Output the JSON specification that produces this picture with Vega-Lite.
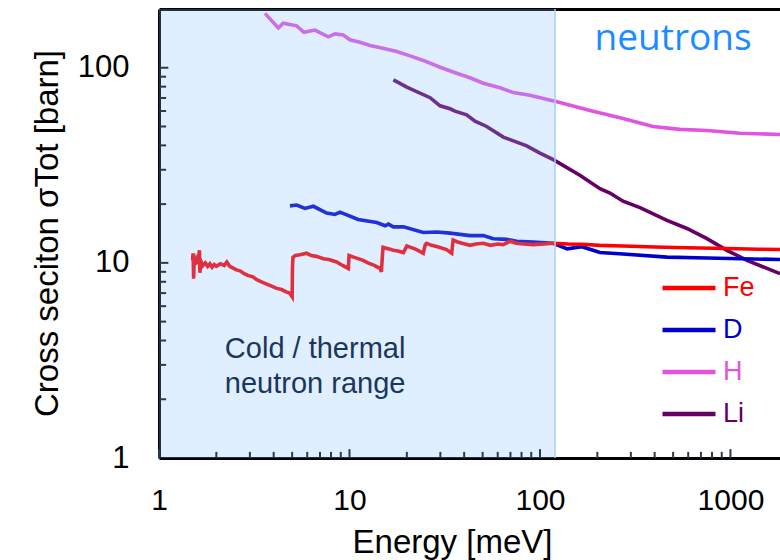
{
  "$schema": "https://vega.github.io/schema/vega-lite/v6.json",
  "autosize": "none",
  "padding": {"left": 159, "top": 9, "right": 0, "bottom": 102},
  "width": 621,
  "height": 449,
  "background": "white",
  "config": {"view": {"stroke": null}, "font": "Liberation Sans"},
  "datasets": {
    "one": [{"note": "annotation"}],
    "xticks": [
      {"v": 1, "major": true}, {"v": 2, "major": false}, {"v": 3, "major": false}, {"v": 4, "major": false}, {"v": 5, "major": false},
      {"v": 6, "major": false}, {"v": 7, "major": false}, {"v": 8, "major": false}, {"v": 9, "major": false},
      {"v": 10, "major": true}, {"v": 20, "major": false}, {"v": 30, "major": false}, {"v": 40, "major": false}, {"v": 50, "major": false},
      {"v": 60, "major": false}, {"v": 70, "major": false}, {"v": 80, "major": false}, {"v": 90, "major": false},
      {"v": 100, "major": true}, {"v": 200, "major": false}, {"v": 300, "major": false}, {"v": 400, "major": false}, {"v": 500, "major": false},
      {"v": 600, "major": false}, {"v": 700, "major": false}, {"v": 800, "major": false}, {"v": 900, "major": false},
      {"v": 1000, "major": true}
    ],
    "yticks": [
      {"v": 2, "major": false}, {"v": 3, "major": false}, {"v": 4, "major": false}, {"v": 5, "major": false},
      {"v": 6, "major": false}, {"v": 7, "major": false}, {"v": 8, "major": false}, {"v": 9, "major": false},
      {"v": 10, "major": true}, {"v": 20, "major": false}, {"v": 30, "major": false}, {"v": 40, "major": false}, {"v": 50, "major": false},
      {"v": 60, "major": false}, {"v": 70, "major": false}, {"v": 80, "major": false}, {"v": 90, "major": false},
      {"v": 100, "major": true}
    ],
    "curves": [
      {"el": "H", "E": 3.60, "s": 190}, {"el": "H", "E": 4.23, "s": 160}, {"el": "H", "E": 4.49, "s": 169}, {"el": "H", "E": 5.28, "s": 164},
      {"el": "H", "E": 5.77, "s": 152}, {"el": "H", "E": 6.59, "s": 156}, {"el": "H", "E": 7.74, "s": 144}, {"el": "H", "E": 8.39, "s": 149},
      {"el": "H", "E": 9.28, "s": 147}, {"el": "H", "E": 10.06, "s": 139}, {"el": "H", "E": 11.35, "s": 135}, {"el": "H", "E": 12.8, "s": 130},
      {"el": "H", "E": 15.0, "s": 126}, {"el": "H", "E": 17.7, "s": 121}, {"el": "H", "E": 20.8, "s": 115}, {"el": "H", "E": 24.4, "s": 109},
      {"el": "H", "E": 29.9, "s": 100.6}, {"el": "H", "E": 36.5, "s": 93.7}, {"el": "H", "E": 42.9, "s": 88.8}, {"el": "H", "E": 50.4, "s": 83.3},
      {"el": "H", "E": 61.7, "s": 78.9}, {"el": "H", "E": 72.4, "s": 74.6}, {"el": "H", "E": 88.6, "s": 72.3}, {"el": "H", "E": 108, "s": 69.0},
      {"el": "H", "E": 120, "s": 67.4}, {"el": "H", "E": 183, "s": 60.4}, {"el": "H", "E": 273, "s": 55.0}, {"el": "H", "E": 392, "s": 50.0},
      {"el": "H", "E": 543, "s": 48.3}, {"el": "H", "E": 753, "s": 47.7}, {"el": "H", "E": 1122, "s": 46.2}, {"el": "H", "E": 1820, "s": 45.5},

      {"el": "Li", "E": 17.0, "s": 86.7}, {"el": "Li", "E": 20.0, "s": 79.5}, {"el": "Li", "E": 26.5, "s": 70.2}, {"el": "Li", "E": 29.9, "s": 63.8},
      {"el": "Li", "E": 33.7, "s": 61.6}, {"el": "Li", "E": 35.8, "s": 59.9}, {"el": "Li", "E": 41.2, "s": 57.4}, {"el": "Li", "E": 45.6, "s": 53.2},
      {"el": "Li", "E": 52.5, "s": 50.0}, {"el": "Li", "E": 64.2, "s": 44.1}, {"el": "Li", "E": 85.2, "s": 39.8}, {"el": "Li", "E": 100, "s": 36.5},
      {"el": "Li", "E": 117.5, "s": 33.8}, {"el": "Li", "E": 162, "s": 28.1}, {"el": "Li", "E": 206.5, "s": 24.0}, {"el": "Li", "E": 233, "s": 22.8},
      {"el": "Li", "E": 273, "s": 20.7}, {"el": "Li", "E": 335, "s": 19.2}, {"el": "Li", "E": 464, "s": 16.5}, {"el": "Li", "E": 591, "s": 15.0},
      {"el": "Li", "E": 753, "s": 13.3}, {"el": "Li", "E": 958, "s": 11.6}, {"el": "Li", "E": 1221, "s": 10.3}, {"el": "Li", "E": 1820, "s": 8.8},

      {"el": "D", "E": 4.87, "s": 19.6}, {"el": "D", "E": 5.28, "s": 19.8}, {"el": "D", "E": 5.84, "s": 19.0}, {"el": "D", "E": 6.46, "s": 19.5},
      {"el": "D", "E": 7.59, "s": 18.0}, {"el": "D", "E": 8.39, "s": 17.7}, {"el": "D", "E": 8.92, "s": 18.2}, {"el": "D", "E": 11.1, "s": 16.7},
      {"el": "D", "E": 13.9, "s": 16.1}, {"el": "D", "E": 15.4, "s": 15.5}, {"el": "D", "E": 16.0, "s": 15.8}, {"el": "D", "E": 17.0, "s": 15.3},
      {"el": "D", "E": 19.2, "s": 15.3}, {"el": "D", "E": 24.4, "s": 14.3}, {"el": "D", "E": 28.7, "s": 14.4}, {"el": "D", "E": 33.7, "s": 14.2},
      {"el": "D", "E": 42.9, "s": 13.8}, {"el": "D", "E": 50.4, "s": 13.8}, {"el": "D", "E": 56.9, "s": 13.3}, {"el": "D", "E": 66.9, "s": 13.2},
      {"el": "D", "E": 75.5, "s": 12.9}, {"el": "D", "E": 92.2, "s": 12.8}, {"el": "D", "E": 117.5, "s": 12.6}, {"el": "D", "E": 139, "s": 11.8},
      {"el": "D", "E": 166, "s": 12.1}, {"el": "D", "E": 206.5, "s": 11.3}, {"el": "D", "E": 273, "s": 11.1}, {"el": "D", "E": 464, "s": 10.7},
      {"el": "D", "E": 753, "s": 10.6}, {"el": "D", "E": 1820, "s": 10.4},

      {"el": "Fe", "E": 1.50, "s": 10.3}, {"el": "Fe", "E": 1.51, "s": 11.2}, {"el": "Fe", "E": 1.52, "s": 8.3}, {"el": "Fe", "E": 1.53, "s": 10.6},
      {"el": "Fe", "E": 1.55, "s": 9.8}, {"el": "Fe", "E": 1.57, "s": 10.4}, {"el": "Fe", "E": 1.60, "s": 9.9}, {"el": "Fe", "E": 1.63, "s": 11.6},
      {"el": "Fe", "E": 1.64, "s": 8.9}, {"el": "Fe", "E": 1.66, "s": 10.2}, {"el": "Fe", "E": 1.70, "s": 9.7}, {"el": "Fe", "E": 1.75, "s": 10.0},
      {"el": "Fe", "E": 1.80, "s": 9.6}, {"el": "Fe", "E": 1.85, "s": 9.9}, {"el": "Fe", "E": 1.90, "s": 9.5}, {"el": "Fe", "E": 1.95, "s": 9.8},
      {"el": "Fe", "E": 2.0, "s": 9.6}, {"el": "Fe", "E": 2.1, "s": 9.9}, {"el": "Fe", "E": 2.2, "s": 9.7}, {"el": "Fe", "E": 2.27, "s": 10.1},
      {"el": "Fe", "E": 2.35, "s": 9.6}, {"el": "Fe", "E": 2.45, "s": 9.4}, {"el": "Fe", "E": 2.55, "s": 9.2}, {"el": "Fe", "E": 2.66, "s": 9.1},
      {"el": "Fe", "E": 2.8, "s": 8.8}, {"el": "Fe", "E": 2.95, "s": 8.6}, {"el": "Fe", "E": 3.1, "s": 8.5}, {"el": "Fe", "E": 3.26, "s": 8.2},
      {"el": "Fe", "E": 3.45, "s": 8.0}, {"el": "Fe", "E": 3.65, "s": 7.8}, {"el": "Fe", "E": 3.9, "s": 7.6}, {"el": "Fe", "E": 4.15, "s": 7.4},
      {"el": "Fe", "E": 4.4, "s": 7.3}, {"el": "Fe", "E": 4.65, "s": 7.1}, {"el": "Fe", "E": 4.85, "s": 7.0}, {"el": "Fe", "E": 5.0, "s": 6.7},
      {"el": "Fe", "E": 5.02, "s": 9.5}, {"el": "Fe", "E": 5.05, "s": 10.7}, {"el": "Fe", "E": 5.2, "s": 10.9}, {"el": "Fe", "E": 5.5, "s": 11.0},
      {"el": "Fe", "E": 5.96, "s": 11.2}, {"el": "Fe", "E": 6.3, "s": 10.9}, {"el": "Fe", "E": 6.7, "s": 10.8}, {"el": "Fe", "E": 7.29, "s": 10.5},
      {"el": "Fe", "E": 7.8, "s": 10.4}, {"el": "Fe", "E": 8.56, "s": 10.1}, {"el": "Fe", "E": 9.2, "s": 9.7}, {"el": "Fe", "E": 9.86, "s": 9.35},
      {"el": "Fe", "E": 9.95, "s": 10.9}, {"el": "Fe", "E": 10.5, "s": 10.7}, {"el": "Fe", "E": 11.8, "s": 10.3}, {"el": "Fe", "E": 12.5, "s": 10.0},
      {"el": "Fe", "E": 13.5, "s": 9.7}, {"el": "Fe", "E": 14.5, "s": 9.35}, {"el": "Fe", "E": 14.7, "s": 9.0}, {"el": "Fe", "E": 14.9, "s": 11.0},
      {"el": "Fe", "E": 15.0, "s": 12.0}, {"el": "Fe", "E": 16, "s": 11.8}, {"el": "Fe", "E": 17, "s": 11.6}, {"el": "Fe", "E": 18, "s": 11.5},
      {"el": "Fe", "E": 19.2, "s": 11.3}, {"el": "Fe", "E": 20.0, "s": 12.2}, {"el": "Fe", "E": 21, "s": 12.0}, {"el": "Fe", "E": 22.5, "s": 11.7},
      {"el": "Fe", "E": 24.4, "s": 11.2}, {"el": "Fe", "E": 25.0, "s": 12.4}, {"el": "Fe", "E": 25.4, "s": 12.6}, {"el": "Fe", "E": 27, "s": 12.3},
      {"el": "Fe", "E": 29, "s": 12.1}, {"el": "Fe", "E": 32.3, "s": 11.7}, {"el": "Fe", "E": 34.4, "s": 11.2}, {"el": "Fe", "E": 35.0, "s": 13.1},
      {"el": "Fe", "E": 37, "s": 12.8}, {"el": "Fe", "E": 39, "s": 12.6}, {"el": "Fe", "E": 42.9, "s": 12.3}, {"el": "Fe", "E": 46, "s": 12.5},
      {"el": "Fe", "E": 50.4, "s": 12.6}, {"el": "Fe", "E": 55, "s": 12.3}, {"el": "Fe", "E": 60, "s": 12.5}, {"el": "Fe", "E": 64.2, "s": 12.4},
      {"el": "Fe", "E": 69.4, "s": 12.9}, {"el": "Fe", "E": 75, "s": 12.6}, {"el": "Fe", "E": 82, "s": 12.5}, {"el": "Fe", "E": 92.2, "s": 12.4},
      {"el": "Fe", "E": 105, "s": 12.5}, {"el": "Fe", "E": 117.5, "s": 12.6}, {"el": "Fe", "E": 140, "s": 12.5}, {"el": "Fe", "E": 166, "s": 12.45},
      {"el": "Fe", "E": 206, "s": 12.3}, {"el": "Fe", "E": 273, "s": 12.2}, {"el": "Fe", "E": 400, "s": 12.05}, {"el": "Fe", "E": 593, "s": 11.95},
      {"el": "Fe", "E": 958, "s": 11.85}, {"el": "Fe", "E": 1400, "s": 11.75}, {"el": "Fe", "E": 1820, "s": 11.7}
    ]
  },
  "resolve": {"axis": {"x": "independent", "y": "independent"}},
  "layer": [
    {
      "data": {"name": "curves"},
      "mark": {"type": "line", "strokeWidth": 3.6, "clip": true},
      "encoding": {
        "x": {
          "field": "E", "type": "quantitative",
          "scale": {"type": "log", "domain": [1, 1820], "nice": false},
          "axis": {
            "orient": "bottom",
            "values": [1, 10, 100, 1000],
            "format": "d",
            "labelFontSize": 30, "labelColor": "black", "labelPadding": 27, "labelFlush": false,
            "ticks": false, "tickSize": 0,
            "domainColor": "black", "domainWidth": 3,
            "grid": false,
            "title": "Energy [meV]", "titleFontSize": 33, "titleFontWeight": "normal", "titleColor": "black",
            "titleX": 293, "titleY": 94, "titleAlign": "center", "titleBaseline": "alphabetic", "titleAnchor": null
          }
        },
        "y": {
          "field": "s", "type": "quantitative",
          "scale": {"type": "log", "domain": [1, 200], "nice": false},
          "axis": {
            "orient": "left",
            "values": [1, 10, 100],
            "format": "d",
            "labelFontSize": 31, "labelColor": "black", "labelPadding": 30, "labelFlush": false,
            "ticks": false, "tickSize": 0,
            "domainColor": "black", "domainWidth": 3,
            "grid": false,
            "title": "Cross seciton σTot [barn]", "titleFontSize": 33, "titleFontWeight": "normal", "titleColor": "black",
            "titleX": -102, "titleY": 224, "titleAngle": -90, "titleAlign": "center", "titleBaseline": "alphabetic", "titleAnchor": null
          }
        },
        "color": {
          "field": "el", "type": "nominal",
          "scale": {"domain": ["Fe", "D", "H", "Li"], "range": ["#ff0000", "#0000cc", "#e055e0", "#660066"]},
          "legend": {
            "orient": "none", "legendX": 501, "legendY": 250, "title": null,
            "symbolType": "stroke", "symbolSize": 2809, "symbolStrokeWidth": 4.5,
            "labelFontSize": 27, "labelOffset": 5, "rowPadding": -17, "padding": 0,
            "labelFont": "Liberation Sans",
            "encode": {"labels": {"update": {"fill": {"scale": "color", "field": "value"}}}}
          }
        }
      }
    },
    {
      "data": {"name": "one"},
      "mark": {"type": "rect", "fill": "#83bfff", "fillOpacity": 0.25},
      "encoding": {
        "x": {"datum": 1, "type": "quantitative", "axis": null},
        "x2": {"datum": 120},
        "y": {"datum": 1, "type": "quantitative", "axis": null},
        "y2": {"datum": 200}
      }
    },
    {
      "data": {"name": "one"},
      "mark": {"type": "rule", "color": "#a6d2f5", "strokeWidth": 1.5},
      "encoding": {
        "x": {"datum": 120, "type": "quantitative", "axis": null}
      }
    },
    {
      "data": {"name": "one"},
      "mark": {"type": "text", "text": ["Cold / thermal", "neutron range"], "fontSize": 29, "font": "Liberation Sans", "color": "#1b365d", "align": "center", "baseline": "alphabetic", "lineHeight": 35},
      "encoding": {
        "x": {"datum": 6.6, "type": "quantitative", "axis": null},
        "y": {"datum": 3.25, "type": "quantitative", "axis": null}
      }
    },
    {
      "data": {"name": "one"},
      "mark": {"type": "text", "text": "neutrons", "fontSize": 37, "font": "Open Sans", "color": "#1a8cff", "align": "center", "baseline": "alphabetic"},
      "encoding": {
        "x": {"datum": 500, "type": "quantitative", "axis": {"orient": "top", "labels": false, "ticks": false, "title": null, "domainColor": "black", "domainWidth": 3, "grid": false}},
        "y": {"datum": 124, "type": "quantitative", "axis": null}
      }
    },
    {
      "data": {"name": "xticks"},
      "transform": [{"filter": "datum.major"}],
      "mark": {"type": "rule", "color": "#2b3a4a", "strokeWidth": 2},
      "encoding": {
        "x": {"field": "v", "type": "quantitative", "axis": null},
        "y": {"datum": 1, "type": "quantitative", "axis": null},
        "y2": {"datum": 1.11}
      }
    },
    {
      "data": {"name": "xticks"},
      "transform": [{"filter": "!datum.major"}],
      "mark": {"type": "rule", "color": "#2b3a4a", "strokeWidth": 2},
      "encoding": {
        "x": {"field": "v", "type": "quantitative", "axis": null},
        "y": {"datum": 1, "type": "quantitative", "axis": null},
        "y2": {"datum": 1.075}
      }
    },
    {
      "data": {"name": "yticks"},
      "transform": [{"filter": "datum.major"}],
      "mark": {"type": "rule", "color": "#2b3a4a", "strokeWidth": 2},
      "encoding": {
        "y": {"field": "v", "type": "quantitative", "axis": null},
        "x": {"datum": 1, "type": "quantitative", "axis": null},
        "x2": {"datum": 1.12}
      }
    },
    {
      "data": {"name": "yticks"},
      "transform": [{"filter": "!datum.major"}],
      "mark": {"type": "rule", "color": "#2b3a4a", "strokeWidth": 2},
      "encoding": {
        "y": {"field": "v", "type": "quantitative", "axis": null},
        "x": {"datum": 1, "type": "quantitative", "axis": null},
        "x2": {"datum": 1.09}
      }
    }
  ]
}
